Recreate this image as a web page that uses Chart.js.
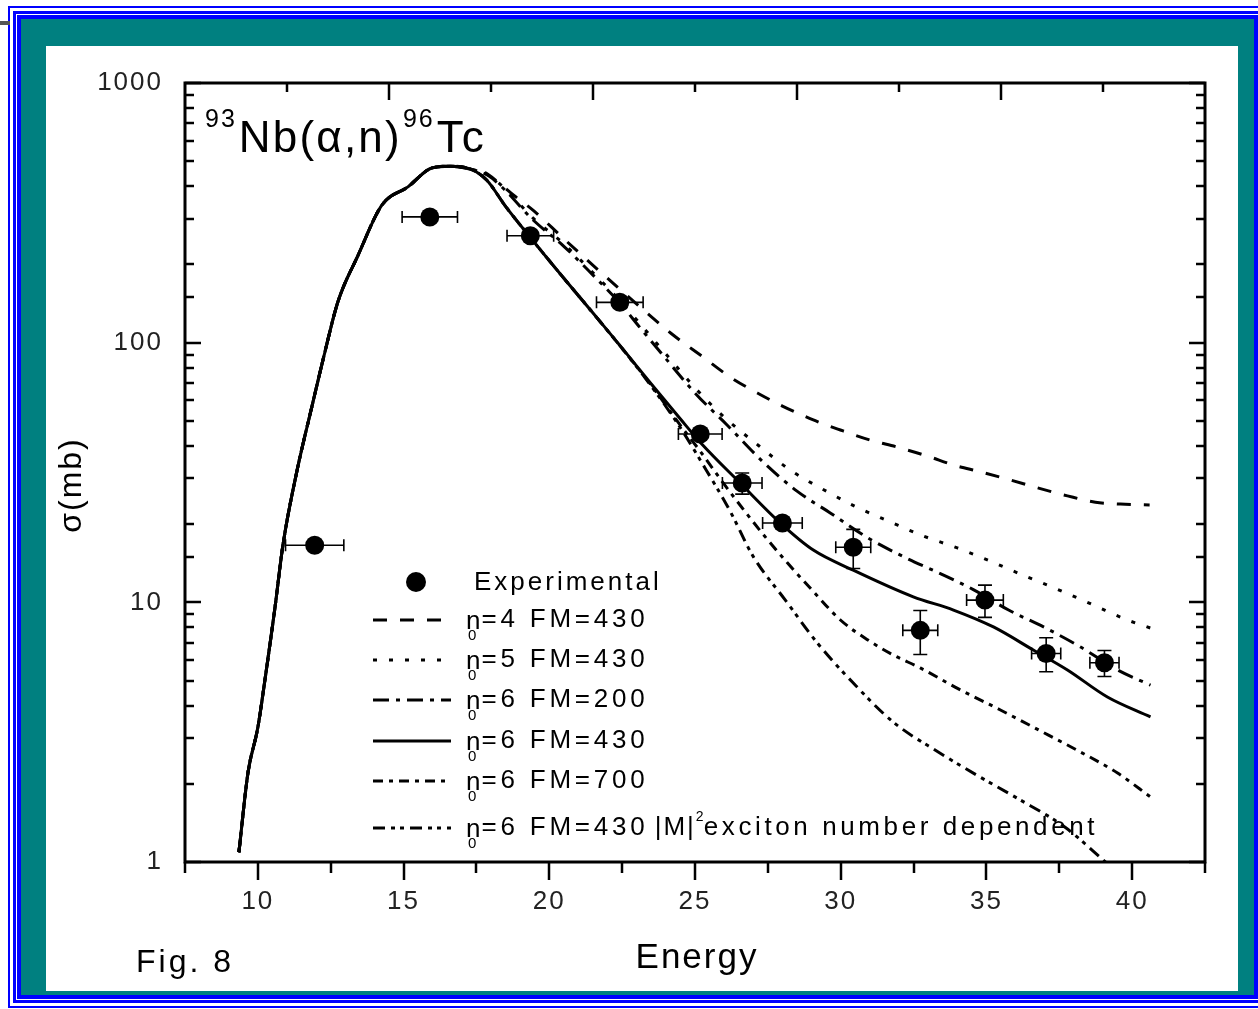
<!DOCTYPE html>
<html>
<head>
<meta charset="utf-8">
<title>93Nb(α,n)96Tc excitation function</title>
<script src="https://cdn.jsdelivr.net/npm/chart.js@4/dist/chart.umd.min.js"></script>
<style>
  html, body { margin: 0; padding: 0; background: #fff; }
  body { width: 1258px; height: 1009px; overflow: hidden; position: relative; }
  .box { position: absolute; box-sizing: border-box; }
  #b1 { left: 8px; top: 6px; width: 1259px; height: 1002px; border: 2px solid #0000ff; background: #fff; }
  #b2 { left: 13px; top: 11px; width: 1249px; height: 992px; border: 3px solid #0000ff; background: #fff; }
  #b3 { left: 17px; top: 15px; width: 1241px; height: 984px; border: 4px solid #0000ff; background: #008080; }
  #sheet { left: 46px; top: 46px; width: 1192px; height: 945px; background: #fff; }
  #nick { left: 0; top: 21px; width: 10px; height: 4px; background: #555; }
  #plot { position: absolute; left: 0; top: 0; z-index: 5; }
</style>
</head>
<body>
<div class="box" id="b1"></div>
<div class="box" id="b2"></div>
<div class="box" id="b3"></div>
<div class="box" id="sheet"></div>
<div class="box" id="nick"></div>
<canvas id="plot" width="1258" height="1009" style="width:1258px;height:1009px"></canvas>
<script>
// ---- measured cross sections (mb) vs alpha energy (MeV) ----
const expE      = [11.95, 15.9, 19.35, 22.42, 25.18, 26.62, 28.0, 30.43, 32.73, 34.95, 37.05, 39.05];
const expSigma  = [16.6, 305, 258, 143, 44.5, 28.8, 20.2, 16.3, 7.8, 10.2, 6.35, 5.85];
const expErrE   = [1.0, 0.95, 0.8, 0.8, 0.75, 0.68, 0.68, 0.6, 0.6, 0.63, 0.5, 0.5];
const expErrSig = [0, 0, 0, 0, 0, 2.7, 1.0, 2.8, 1.5, 1.45, 0.95, 0.67];

// ---- calculated excitation functions ----
// rising part, common to all calculations
const riseE = [9.35, 9.66, 10.0, 10.24, 10.58, 10.86, 11.34, 11.85, 12.3, 12.75, 13.43, 14.26, 15.15, 15.98, 16.6, 17.3];
const riseS = [1.09, 2.2, 3.3, 5.0, 9.4, 16.6, 32, 56.5, 92, 144, 216, 339, 398, 471, 478, 466];

// n0=4 FM=430
const n4E = [17.8, 18.3, 18.8, 19.44, 20.47, 21.3, 22.33, 23.36, 24.25, 25.28, 26.2, 27.14, 28.0, 29.06, 29.99, 31.0, 31.94, 32.97, 33.87, 34.8, 35.82, 36.75, 37.78, 38.74, 39.6, 40.6];
const n4S = [452, 410, 368, 324, 253, 208, 164, 130, 107, 88, 73.8, 64, 57, 50.4, 46.1, 42.2, 39.6, 36.6, 33.8, 31.8, 29.6, 27.6, 25.7, 24.3, 23.9, 23.7];
// n0=5 FM=430
const n5E = [17.9, 18.5, 19.4, 20.5, 21.5, 22.4, 23.12, 23.98, 25.0, 26.0, 27.2, 28.27, 29.4, 30.57, 31.7, 32.84, 34.0, 35.14, 36.27, 37.54, 38.67, 39.84, 40.63];
const n5S = [442, 390, 305, 240, 186, 146, 118, 91, 67, 51.7, 40, 32.3, 27.2, 23.2, 20.4, 18.0, 16.2, 14.4, 12.7, 11.1, 9.77, 8.55, 7.96];
// n0=6 FM=200
const fm200E = [17.9, 18.5, 19.4, 20.5, 21.5, 22.4, 23.12, 23.98, 25.0, 26.1, 27.34, 28.5, 29.64, 30.9, 32.2, 33.35, 34.55, 35.76, 36.96, 38.23, 39.5, 40.63];
const fm200S = [440, 385, 300, 235, 182, 143, 114, 87.3, 64, 48.2, 34.7, 26.8, 22.1, 17.8, 14.9, 13.0, 11.2, 9.34, 8.04, 6.73, 5.49, 4.8];
// n0=6 FM=430
const fm430E = [17.85, 18.5, 19.34, 20.5, 21.5, 22.5, 23.5, 24.5, 25.2, 26.55, 27.93, 29.06, 30.43, 32.49, 33.87, 35.24, 36.61, 37.78, 39.15, 40.63];
const fm430S = [423, 335, 255, 177, 130, 95.3, 69.3, 50.8, 41.1, 28.8, 20.2, 15.9, 13.3, 10.5, 9.34, 8.04, 6.55, 5.49, 4.32, 3.62];
// n0=6 FM=700
const fm700E = [17.85, 18.5, 19.34, 20.5, 21.5, 22.5, 23.5, 24.5, 25.2, 26.0, 27.3, 28.17, 29.0, 29.99, 30.9, 31.8, 32.73, 34.04, 35.48, 37.13, 38.1, 39.5, 40.63];
const fm700S = [423, 335, 255, 177, 130, 95, 68.5, 48.0, 37.9, 28.5, 18.5, 14.2, 11.2, 8.55, 7.2, 6.27, 5.59, 4.64, 3.85, 3.08, 2.70, 2.20, 1.78];
// n0=6 FM=430, |M|^2 exciton number dependent
const excE = [17.85, 18.5, 19.34, 20.5, 21.5, 22.5, 23.5, 24.5, 25.2, 26.2, 27.0, 28.1, 29.2, 30.4, 31.8, 33.4, 34.7, 36.06, 37.7, 39.0, 39.4];
const excS = [423, 335, 255, 177, 130, 95, 68, 47, 35, 22.5, 15.0, 10.2, 6.97, 4.93, 3.46, 2.63, 2.15, 1.76, 1.36, 1.02, 0.93];

// ---- axes ----
const xLabelValues = [10, 15, 20, 25, 30, 35, 40];
const bottomTicks  = [7.5, 10, 12.5, 15, 17.5, 20, 22.5, 25, 27.5, 30, 32.5, 35, 37.5, 40, 42.5];
const topTicks     = [1, 2, 3, 4, 5, 6, 7, 8, 9];
const yLabelValues = [1, 10, 100, 1000];

const FONT = "'Liberation Sans', Arial, Helvetica, sans-serif";

function pts(es, ss) { return es.map((e, i) => ({ x: e, y: ss[i] })); }
function curve(tailE, tailS) { return pts(riseE.concat(tailE), riseS.concat(tailS)); }

const lineBase = {
  type: 'line', showLine: true, pointRadius: 0, borderColor: '#000', borderWidth: 3,
  fill: false, cubicInterpolationMode: 'monotone', borderCapStyle: 'butt', order: 1
};

const series = [
  { label: 'n0=4 FM=430', data: curve(n4E, n4S), borderDash: [14, 13] },
  { label: 'n0=5 FM=430', data: curve(n5E, n5S), borderDash: [4, 12] },
  { label: 'n0=6 FM=200', data: curve(fm200E, fm200S), borderDash: [16, 7, 4, 7] },
  { label: 'n0=6 FM=430', data: curve(fm430E, fm430S), borderDash: [] },
  { label: 'n0=6 FM=700', data: curve(fm700E, fm700S), borderDash: [10, 6, 4, 6] },
  { label: 'n0=6 FM=430 |M|2 exciton number dependent', data: curve(excE, excS), borderDash: [12, 6, 4, 5, 4, 6] }
].map(s => Object.assign({}, lineBase, s));

const expData = {
  label: 'Experimental', type: 'line', showLine: false, data: pts(expE, expSigma),
  pointRadius: 9.5, pointStyle: 'circle', pointBackgroundColor: '#000', pointBorderColor: '#000',
  pointBorderWidth: 0, order: 0
};

const datasets = series.concat([expData]);
const EXP_INDEX = datasets.length - 1;

// error bars on the measured points
const errorBars = {
  id: 'errorBars',
  beforeDatasetDraw(chart, args) {
    if (args.index !== EXP_INDEX) return;
    const { ctx, scales: { x, y } } = chart;
    ctx.save();
    ctx.strokeStyle = '#000';
    ctx.lineWidth = 1.6;
    ctx.beginPath();
    expE.forEach((e, i) => {
      const px = x.getPixelForValue(e), py = y.getPixelForValue(expSigma[i]);
      const dE = expErrE[i], dS = expErrSig[i];
      if (dE > 0) {
        const xl = x.getPixelForValue(e - dE), xr = x.getPixelForValue(e + dE);
        ctx.moveTo(xl, py); ctx.lineTo(xr, py);
        ctx.moveTo(xl, py - 6); ctx.lineTo(xl, py + 6);
        ctx.moveTo(xr, py - 6); ctx.lineTo(xr, py + 6);
      }
      if (dS > 0) {
        const yt = y.getPixelForValue(expSigma[i] + dS), yb = y.getPixelForValue(expSigma[i] - dS);
        ctx.moveTo(px, yt); ctx.lineTo(px, yb);
        ctx.moveTo(px - 7, yt); ctx.lineTo(px + 7, yt);
        ctx.moveTo(px - 7, yb); ctx.lineTo(px + 7, yb);
      }
    });
    ctx.stroke();
    ctx.restore();
  }
};

// plot frame with inward ticks (left, top, right) and outward ticks (bottom)
const axisFrame = {
  id: 'axisFrame',
  beforeDraw(chart) { chart.ctx.letterSpacing = '2px'; },
  afterDatasetsDraw(chart) {
    const { ctx, chartArea: a, scales: { x, x2, y } } = chart;
    ctx.save();
    ctx.strokeStyle = '#000';
    ctx.lineWidth = 3;
    ctx.strokeRect(a.left, a.top, a.right - a.left, a.bottom - a.top);
    ctx.lineWidth = 2.5;
    ctx.beginPath();
    y.ticks.forEach(t => {
      const lg = Math.log10(t.value);
      const major = Math.abs(lg - Math.round(lg)) < 1e-9;
      const len = major ? 16 : 9;
      const p = Math.round(y.getPixelForValue(t.value));
      ctx.moveTo(a.left, p); ctx.lineTo(a.left + len, p);
      ctx.moveTo(a.right, p); ctx.lineTo(a.right - len, p);
    });
    bottomTicks.forEach(v => {
      const len = (v % 5 === 0) ? 18 : 11;
      const p = Math.round(x.getPixelForValue(v));
      ctx.moveTo(p, a.bottom); ctx.lineTo(p, a.bottom + len);
    });
    topTicks.forEach(v => {
      const len = (v % 2 === 0) ? 17 : 9;
      const p = Math.round(x2.getPixelForValue(v));
      ctx.moveTo(p, a.top); ctx.lineTo(p, a.top + len);
    });
    ctx.stroke();
    ctx.restore();
  },
  afterDraw(chart) {
    const { ctx, chartArea: a, data } = chart;
    ctx.save();
    ctx.letterSpacing = '0px';
    ctx.fillStyle = '#000';

    const put = (s, x, y, size, spacing) => {
      ctx.font = `${size}px ${FONT}`;
      ctx.letterSpacing = spacing + 'px';
      ctx.fillText(s, x, y);
      return x + ctx.measureText(s).width;
    };

    // reaction label
    ctx.textBaseline = 'alphabetic';
    const base = a.top + 69;
    let cx = a.left + 20;
    cx = put('93', cx, base - 25, 25, 2);
    cx = put('Nb(α,n)', cx + 2, base, 44, 2.2);
    cx = put('96', cx + 1, base - 25, 25, 2);
    put('Tc', cx + 2, base, 44, 3);

    // axis titles and figure number
    ctx.textBaseline = 'middle';
    ctx.textAlign = 'center';
    put('Energy', 697, 958, 35, 2);
    ctx.textAlign = 'left';
    put('Fig. 8', 136, 963, 32, 3);
    ctx.save();
    ctx.translate(72, 485);
    ctx.rotate(-Math.PI / 2);
    ctx.textAlign = 'center';
    put('σ(mb)', 0, 0, 32, 2);
    ctx.restore();

    // legend
    ctx.textAlign = 'left';
    const lx0 = a.left + 188, lx1 = a.left + 266, tx = a.left + 281;
    ctx.beginPath();
    ctx.arc(a.left + 231, a.top + 499, 10, 0, Math.PI * 2);
    ctx.fill();
    put('Experimental', a.left + 289, a.top + 500, 26, 3.0);

    const rows = [
      { y: a.top + 537, txt: '=4 FM=430' },
      { y: a.top + 577, txt: '=5 FM=430' },
      { y: a.top + 617, txt: '=6 FM=200' },
      { y: a.top + 658, txt: '=6 FM=430' },
      { y: a.top + 698, txt: '=6 FM=700' },
      { y: a.top + 745, txt: '=6 FM=430', extra: true }
    ];
    rows.forEach((r, i) => {
      const ds = data.datasets[i];
      ctx.save();
      ctx.strokeStyle = '#000';
      ctx.lineWidth = 3;
      ctx.lineCap = 'butt';
      ctx.setLineDash(ds.borderDash || []);
      ctx.beginPath();
      ctx.moveTo(lx0, r.y); ctx.lineTo(lx1, r.y);
      ctx.stroke();
      ctx.restore();
      let x = put('n', tx, r.y + 2, 26, 0);
      put('0', tx + 2, r.y + 16, 15, 0);
      x = put(r.txt, x + 1, r.y, 26, 3.8);
      if (r.extra) {
        x = put('|M|', x + 6, r.y, 26, 2);
        put('2', x, r.y - 11, 14, 0);
        put('exciton number dependent', x + 8, r.y, 26, 3.6);
      }
    });
    ctx.restore();
  }
};

new Chart(document.getElementById('plot'), {
  type: 'line',
  data: { datasets },
  options: {
    responsive: false,
    animation: false,
    devicePixelRatio: 1,
    layout: { padding: { left: 0, top: 83, right: 53, bottom: 0 } },
    plugins: { legend: { display: false }, tooltip: { enabled: false } },
    scales: {
      x: {
        type: 'linear', position: 'bottom', min: 7.5, max: 42.5,
        grid: { display: false, drawTicks: false }, border: { display: false },
        ticks: {
          stepSize: 2.5, autoSkip: false, maxRotation: 0, minRotation: 0, padding: 24,
          color: '#222', font: { family: FONT, size: 26 },
          callback: v => xLabelValues.includes(v) ? String(v) : ''
        },
        afterFit: s => { s.height = 147; }
      },
      x2: {
        type: 'linear', position: 'top', min: 0, max: 10,
        grid: { display: false, drawTicks: false }, border: { display: false },
        ticks: { display: false },
        afterFit: s => { s.height = 0; }
      },
      y: {
        type: 'logarithmic', position: 'left', min: 1, max: 1000,
        grid: { display: false, drawTicks: false }, border: { display: false },
        ticks: {
          autoSkip: false, padding: 22, color: '#222', font: { family: FONT, size: 26 },
          callback: v => yLabelValues.includes(v) ? String(v) : ''
        },
        afterFit: s => { s.width = 185; }
      }
    }
  },
  plugins: [errorBars, axisFrame]
});
</script>
</body>
</html>
